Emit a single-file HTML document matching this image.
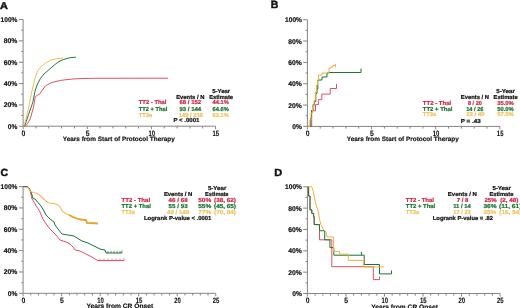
<!DOCTYPE html>
<html><head><meta charset="utf-8"><style>
html,body{margin:0;padding:0;background:#fff;}
body{width:520px;height:308px;overflow:hidden;font-family:"Liberation Sans",sans-serif;}
svg{display:block;filter:blur(0.4px);}
</style></head><body>
<svg text-rendering="geometricPrecision" width="520" height="308" viewBox="0 0 520 308" font-family="'Liberation Sans', sans-serif">
<rect width="520" height="308" fill="#fff"/>
<text x="0" y="9.0" font-size="10" font-weight="bold" fill="#111" stroke="#111" stroke-width="0.45" text-anchor="start" textLength="7.9" lengthAdjust="spacingAndGlyphs">A</text>
<text x="270.8" y="8.3" font-size="10.4" font-weight="bold" fill="#111" stroke="#111" stroke-width="0.45" text-anchor="start" textLength="7.6" lengthAdjust="spacingAndGlyphs">B</text>
<text x="0.6" y="175.5" font-size="10.4" font-weight="bold" fill="#111" stroke="#111" stroke-width="0.45" text-anchor="start" textLength="7.6" lengthAdjust="spacingAndGlyphs">C</text>
<text x="274.3" y="175.6" font-size="10.3" font-weight="bold" fill="#111" stroke="#111" stroke-width="0.45" text-anchor="start" textLength="7.9" lengthAdjust="spacingAndGlyphs">D</text>
<path d="M23.1,19.50V126.2H215.55M18.900000000000002,126.20H23.1M21.3,115.53H23.1M18.900000000000002,104.86H23.1M21.3,94.19H23.1M18.900000000000002,83.52H23.1M21.3,72.85H23.1M18.900000000000002,62.18H23.1M21.3,51.51H23.1M18.900000000000002,40.84H23.1M21.3,30.17H23.1M18.900000000000002,19.50H23.1M23.10,126.2V129.2M35.93,126.2V128.4M48.76,126.2V128.4M61.59,126.2V128.4M74.42,126.2V128.4M87.25,126.2V129.2M100.08,126.2V128.4M112.91,126.2V128.4M125.74,126.2V128.4M138.57,126.2V128.4M151.40,126.2V129.2M164.23,126.2V128.4M177.06,126.2V128.4M189.89,126.2V128.4M202.72,126.2V128.4M215.55,126.2V129.2" fill="none" stroke="#858585" stroke-width="1" stroke-opacity="1" stroke-linejoin="miter" stroke-linecap="butt"/>
<text x="17.4" y="128.70000000000002" font-size="6.9" font-weight="bold" fill="#111" stroke="#111" stroke-width="0.18" text-anchor="end" textLength="9.6" lengthAdjust="spacingAndGlyphs">0%</text>
<text x="17.4" y="107.36" font-size="6.9" font-weight="bold" fill="#111" stroke="#111" stroke-width="0.18" text-anchor="end" textLength="13.6" lengthAdjust="spacingAndGlyphs">20%</text>
<text x="17.4" y="86.02" font-size="6.9" font-weight="bold" fill="#111" stroke="#111" stroke-width="0.18" text-anchor="end" textLength="13.6" lengthAdjust="spacingAndGlyphs">40%</text>
<text x="17.4" y="64.67999999999999" font-size="6.9" font-weight="bold" fill="#111" stroke="#111" stroke-width="0.18" text-anchor="end" textLength="13.6" lengthAdjust="spacingAndGlyphs">60%</text>
<text x="17.4" y="43.339999999999996" font-size="6.9" font-weight="bold" fill="#111" stroke="#111" stroke-width="0.18" text-anchor="end" textLength="13.6" lengthAdjust="spacingAndGlyphs">80%</text>
<text x="17.4" y="22.0" font-size="6.9" font-weight="bold" fill="#111" stroke="#111" stroke-width="0.18" text-anchor="end" textLength="16.8" lengthAdjust="spacingAndGlyphs">100%</text>
<text x="23.400000000000002" y="135.7" font-size="7.8" font-weight="bold" fill="#111" stroke="#111" stroke-width="0.1" text-anchor="middle" textLength="3.8" lengthAdjust="spacingAndGlyphs">0</text>
<text x="87.55" y="135.7" font-size="7.8" font-weight="bold" fill="#111" stroke="#111" stroke-width="0.1" text-anchor="middle" textLength="3.8" lengthAdjust="spacingAndGlyphs">5</text>
<text x="151.70000000000002" y="135.7" font-size="7.8" font-weight="bold" fill="#111" stroke="#111" stroke-width="0.1" text-anchor="middle" textLength="6.6" lengthAdjust="spacingAndGlyphs">10</text>
<text x="215.85000000000002" y="135.7" font-size="7.8" font-weight="bold" fill="#111" stroke="#111" stroke-width="0.1" text-anchor="middle" textLength="6.6" lengthAdjust="spacingAndGlyphs">15</text>
<text x="62.8" y="140.9" font-size="6.3" font-weight="bold" fill="#111" stroke="#111" stroke-width="0.15" text-anchor="start" textLength="112" lengthAdjust="spacingAndGlyphs">Years from Start of Protocol Therapy</text>
<path d="M307.4,19.70V126.4H499.85M303.2,126.40H307.4M305.59999999999997,115.73H307.4M303.2,105.06H307.4M305.59999999999997,94.39H307.4M303.2,83.72H307.4M305.59999999999997,73.05H307.4M303.2,62.38H307.4M305.59999999999997,51.71H307.4M303.2,41.04H307.4M305.59999999999997,30.37H307.4M303.2,19.70H307.4M307.40,126.4V129.4M320.23,126.4V128.6M333.06,126.4V128.6M345.89,126.4V128.6M358.72,126.4V128.6M371.55,126.4V129.4M384.38,126.4V128.6M397.21,126.4V128.6M410.04,126.4V128.6M422.87,126.4V128.6M435.70,126.4V129.4M448.53,126.4V128.6M461.36,126.4V128.6M474.19,126.4V128.6M487.02,126.4V128.6M499.85,126.4V129.4" fill="none" stroke="#858585" stroke-width="1" stroke-opacity="1" stroke-linejoin="miter" stroke-linecap="butt"/>
<text x="301.9" y="128.9" font-size="6.9" font-weight="bold" fill="#111" stroke="#111" stroke-width="0.18" text-anchor="end" textLength="9.6" lengthAdjust="spacingAndGlyphs">0%</text>
<text x="301.9" y="107.56" font-size="6.9" font-weight="bold" fill="#111" stroke="#111" stroke-width="0.18" text-anchor="end" textLength="13.6" lengthAdjust="spacingAndGlyphs">20%</text>
<text x="301.9" y="86.22" font-size="6.9" font-weight="bold" fill="#111" stroke="#111" stroke-width="0.18" text-anchor="end" textLength="13.6" lengthAdjust="spacingAndGlyphs">40%</text>
<text x="301.9" y="64.88" font-size="6.9" font-weight="bold" fill="#111" stroke="#111" stroke-width="0.18" text-anchor="end" textLength="13.6" lengthAdjust="spacingAndGlyphs">60%</text>
<text x="301.9" y="43.54" font-size="6.9" font-weight="bold" fill="#111" stroke="#111" stroke-width="0.18" text-anchor="end" textLength="13.6" lengthAdjust="spacingAndGlyphs">80%</text>
<text x="301.9" y="22.2" font-size="6.9" font-weight="bold" fill="#111" stroke="#111" stroke-width="0.18" text-anchor="end" textLength="16.8" lengthAdjust="spacingAndGlyphs">100%</text>
<text x="307.7" y="135.9" font-size="7.8" font-weight="bold" fill="#111" stroke="#111" stroke-width="0.1" text-anchor="middle" textLength="3.8" lengthAdjust="spacingAndGlyphs">0</text>
<text x="371.85" y="135.9" font-size="7.8" font-weight="bold" fill="#111" stroke="#111" stroke-width="0.1" text-anchor="middle" textLength="3.8" lengthAdjust="spacingAndGlyphs">5</text>
<text x="436.0" y="135.9" font-size="7.8" font-weight="bold" fill="#111" stroke="#111" stroke-width="0.1" text-anchor="middle" textLength="6.6" lengthAdjust="spacingAndGlyphs">10</text>
<text x="500.15000000000003" y="135.9" font-size="7.8" font-weight="bold" fill="#111" stroke="#111" stroke-width="0.1" text-anchor="middle" textLength="6.6" lengthAdjust="spacingAndGlyphs">15</text>
<text x="346.8" y="141.1" font-size="6.3" font-weight="bold" fill="#111" stroke="#111" stroke-width="0.15" text-anchor="start" textLength="112" lengthAdjust="spacingAndGlyphs">Years from Start of Protocol Therapy</text>
<path d="M23.1,186.60V293.3H215.75M18.900000000000002,293.30H23.1M21.3,282.63H23.1M18.900000000000002,271.96H23.1M21.3,261.29H23.1M18.900000000000002,250.62H23.1M21.3,239.95H23.1M18.900000000000002,229.28H23.1M21.3,218.61H23.1M18.900000000000002,207.94H23.1M21.3,197.27H23.1M18.900000000000002,186.60H23.1M23.10,293.3V296.3M30.81,293.3V295.5M38.51,293.3V295.5M46.22,293.3V295.5M53.92,293.3V295.5M61.63,293.3V296.3M69.34,293.3V295.5M77.04,293.3V295.5M84.75,293.3V295.5M92.45,293.3V295.5M100.16,293.3V296.3M107.87,293.3V295.5M115.57,293.3V295.5M123.28,293.3V295.5M130.98,293.3V295.5M138.69,293.3V296.3M146.40,293.3V295.5M154.10,293.3V295.5M161.81,293.3V295.5M169.51,293.3V295.5M177.22,293.3V296.3M184.93,293.3V295.5M192.63,293.3V295.5M200.34,293.3V295.5M208.04,293.3V295.5M215.75,293.3V296.3" fill="none" stroke="#858585" stroke-width="1" stroke-opacity="1" stroke-linejoin="miter" stroke-linecap="butt"/>
<text x="17.4" y="295.8" font-size="6.9" font-weight="bold" fill="#111" stroke="#111" stroke-width="0.18" text-anchor="end" textLength="9.6" lengthAdjust="spacingAndGlyphs">0%</text>
<text x="17.4" y="274.46000000000004" font-size="6.9" font-weight="bold" fill="#111" stroke="#111" stroke-width="0.18" text-anchor="end" textLength="13.6" lengthAdjust="spacingAndGlyphs">20%</text>
<text x="17.4" y="253.12" font-size="6.9" font-weight="bold" fill="#111" stroke="#111" stroke-width="0.18" text-anchor="end" textLength="13.6" lengthAdjust="spacingAndGlyphs">40%</text>
<text x="17.4" y="231.78" font-size="6.9" font-weight="bold" fill="#111" stroke="#111" stroke-width="0.18" text-anchor="end" textLength="13.6" lengthAdjust="spacingAndGlyphs">60%</text>
<text x="17.4" y="210.44" font-size="6.9" font-weight="bold" fill="#111" stroke="#111" stroke-width="0.18" text-anchor="end" textLength="13.6" lengthAdjust="spacingAndGlyphs">80%</text>
<text x="17.4" y="189.10000000000002" font-size="6.9" font-weight="bold" fill="#111" stroke="#111" stroke-width="0.18" text-anchor="end" textLength="16.8" lengthAdjust="spacingAndGlyphs">100%</text>
<text x="23.400000000000002" y="302.8" font-size="7.8" font-weight="bold" fill="#111" stroke="#111" stroke-width="0.1" text-anchor="middle" textLength="3.8" lengthAdjust="spacingAndGlyphs">0</text>
<text x="61.93" y="302.8" font-size="7.8" font-weight="bold" fill="#111" stroke="#111" stroke-width="0.1" text-anchor="middle" textLength="3.8" lengthAdjust="spacingAndGlyphs">5</text>
<text x="100.46" y="302.8" font-size="7.8" font-weight="bold" fill="#111" stroke="#111" stroke-width="0.1" text-anchor="middle" textLength="6.6" lengthAdjust="spacingAndGlyphs">10</text>
<text x="138.99" y="302.8" font-size="7.8" font-weight="bold" fill="#111" stroke="#111" stroke-width="0.1" text-anchor="middle" textLength="6.6" lengthAdjust="spacingAndGlyphs">15</text>
<text x="177.52" y="302.8" font-size="7.8" font-weight="bold" fill="#111" stroke="#111" stroke-width="0.1" text-anchor="middle" textLength="6.6" lengthAdjust="spacingAndGlyphs">20</text>
<text x="216.05" y="302.8" font-size="7.8" font-weight="bold" fill="#111" stroke="#111" stroke-width="0.1" text-anchor="middle" textLength="6.6" lengthAdjust="spacingAndGlyphs">25</text>
<text x="86.4" y="308.3" font-size="6.3" font-weight="bold" fill="#111" stroke="#111" stroke-width="0.15" text-anchor="start" textLength="66.8" lengthAdjust="spacingAndGlyphs">Years from CR Onset</text>
<path d="M307.4,186.80V293.5H500.05M303.2,293.50H307.4M305.59999999999997,282.83H307.4M303.2,272.16H307.4M305.59999999999997,261.49H307.4M303.2,250.82H307.4M305.59999999999997,240.15H307.4M303.2,229.48H307.4M305.59999999999997,218.81H307.4M303.2,208.14H307.4M305.59999999999997,197.47H307.4M303.2,186.80H307.4M307.40,293.5V296.5M315.11,293.5V295.7M322.81,293.5V295.7M330.52,293.5V295.7M338.22,293.5V295.7M345.93,293.5V296.5M353.64,293.5V295.7M361.34,293.5V295.7M369.05,293.5V295.7M376.75,293.5V295.7M384.46,293.5V296.5M392.17,293.5V295.7M399.87,293.5V295.7M407.58,293.5V295.7M415.28,293.5V295.7M422.99,293.5V296.5M430.70,293.5V295.7M438.40,293.5V295.7M446.11,293.5V295.7M453.81,293.5V295.7M461.52,293.5V296.5M469.23,293.5V295.7M476.93,293.5V295.7M484.64,293.5V295.7M492.34,293.5V295.7M500.05,293.5V296.5" fill="none" stroke="#858585" stroke-width="1" stroke-opacity="1" stroke-linejoin="miter" stroke-linecap="butt"/>
<text x="301.9" y="296.0" font-size="6.9" font-weight="bold" fill="#111" stroke="#111" stroke-width="0.18" text-anchor="end" textLength="9.6" lengthAdjust="spacingAndGlyphs">0%</text>
<text x="301.9" y="274.66" font-size="6.9" font-weight="bold" fill="#111" stroke="#111" stroke-width="0.18" text-anchor="end" textLength="13.6" lengthAdjust="spacingAndGlyphs">20%</text>
<text x="301.9" y="253.32000000000002" font-size="6.9" font-weight="bold" fill="#111" stroke="#111" stroke-width="0.18" text-anchor="end" textLength="13.6" lengthAdjust="spacingAndGlyphs">40%</text>
<text x="301.9" y="231.98000000000002" font-size="6.9" font-weight="bold" fill="#111" stroke="#111" stroke-width="0.18" text-anchor="end" textLength="13.6" lengthAdjust="spacingAndGlyphs">60%</text>
<text x="301.9" y="210.64000000000001" font-size="6.9" font-weight="bold" fill="#111" stroke="#111" stroke-width="0.18" text-anchor="end" textLength="13.6" lengthAdjust="spacingAndGlyphs">80%</text>
<text x="301.9" y="189.3" font-size="6.9" font-weight="bold" fill="#111" stroke="#111" stroke-width="0.18" text-anchor="end" textLength="16.8" lengthAdjust="spacingAndGlyphs">100%</text>
<text x="307.7" y="303.0" font-size="7.8" font-weight="bold" fill="#111" stroke="#111" stroke-width="0.1" text-anchor="middle" textLength="3.8" lengthAdjust="spacingAndGlyphs">0</text>
<text x="346.23" y="303.0" font-size="7.8" font-weight="bold" fill="#111" stroke="#111" stroke-width="0.1" text-anchor="middle" textLength="3.8" lengthAdjust="spacingAndGlyphs">5</text>
<text x="384.76" y="303.0" font-size="7.8" font-weight="bold" fill="#111" stroke="#111" stroke-width="0.1" text-anchor="middle" textLength="6.6" lengthAdjust="spacingAndGlyphs">10</text>
<text x="423.29" y="303.0" font-size="7.8" font-weight="bold" fill="#111" stroke="#111" stroke-width="0.1" text-anchor="middle" textLength="6.6" lengthAdjust="spacingAndGlyphs">15</text>
<text x="461.82" y="303.0" font-size="7.8" font-weight="bold" fill="#111" stroke="#111" stroke-width="0.1" text-anchor="middle" textLength="6.6" lengthAdjust="spacingAndGlyphs">20</text>
<text x="500.35" y="303.0" font-size="7.8" font-weight="bold" fill="#111" stroke="#111" stroke-width="0.1" text-anchor="middle" textLength="6.6" lengthAdjust="spacingAndGlyphs">25</text>
<text x="371.2" y="308.6" font-size="6.3" font-weight="bold" fill="#111" stroke="#111" stroke-width="0.15" text-anchor="start" textLength="66.8" lengthAdjust="spacingAndGlyphs">Years from CR Onset</text>
<text x="212.2" y="93.1" font-size="5.8" font-weight="bold" fill="#111" stroke="#111" stroke-width="0.22" text-anchor="start" textLength="18" lengthAdjust="spacingAndGlyphs">5-Year</text>
<text x="176.2" y="98.6" font-size="5.8" font-weight="bold" fill="#111" stroke="#111" stroke-width="0.22" text-anchor="start" textLength="28.2" lengthAdjust="spacingAndGlyphs">Events / N</text>
<text x="209.2" y="98.6" font-size="5.8" font-weight="bold" fill="#111" stroke="#111" stroke-width="0.22" text-anchor="start" textLength="23.8" lengthAdjust="spacingAndGlyphs">Estimate</text>
<text x="138.8" y="104.3" font-size="5.8" font-weight="bold" fill="#d22640" stroke="#d22640" stroke-width="0.22" text-anchor="start" textLength="27.6" lengthAdjust="spacingAndGlyphs">TT2 - Thal</text>
<text x="179.4" y="104.3" font-size="5.8" font-weight="bold" fill="#d22640" stroke="#d22640" stroke-width="0.22" text-anchor="start" textLength="21.8" lengthAdjust="spacingAndGlyphs">68 / 152</text>
<text x="212.6" y="104.3" font-size="5.8" font-weight="bold" fill="#d22640" stroke="#d22640" stroke-width="0.22" text-anchor="start" textLength="16.2" lengthAdjust="spacingAndGlyphs">44.1%</text>
<text x="138.8" y="110.6" font-size="5.8" font-weight="bold" fill="#1a7434" stroke="#1a7434" stroke-width="0.22" text-anchor="start" textLength="28.6" lengthAdjust="spacingAndGlyphs">TT2 + Thal</text>
<text x="179.4" y="110.6" font-size="5.8" font-weight="bold" fill="#1a7434" stroke="#1a7434" stroke-width="0.22" text-anchor="start" textLength="21.8" lengthAdjust="spacingAndGlyphs">93 / 144</text>
<text x="212.6" y="110.6" font-size="5.8" font-weight="bold" fill="#1a7434" stroke="#1a7434" stroke-width="0.22" text-anchor="start" textLength="16.2" lengthAdjust="spacingAndGlyphs">64.6%</text>
<text x="138.8" y="116.5" font-size="5.8" font-weight="bold" fill="#f2c260" stroke="#f2c260" stroke-width="0.22" text-anchor="start" textLength="13.4" lengthAdjust="spacingAndGlyphs">TT3a</text>
<text x="178.8" y="116.5" font-size="5.8" font-weight="bold" fill="#f2c260" stroke="#f2c260" stroke-width="0.22" text-anchor="start" textLength="24.2" lengthAdjust="spacingAndGlyphs">149 / 236</text>
<text x="212.6" y="116.5" font-size="5.8" font-weight="bold" fill="#f2c260" stroke="#f2c260" stroke-width="0.22" text-anchor="start" textLength="16.2" lengthAdjust="spacingAndGlyphs">63.1%</text>
<text x="173.4" y="121.8" font-size="5.8" font-weight="bold" fill="#111" stroke="#111" stroke-width="0.22" text-anchor="start" textLength="26" lengthAdjust="spacingAndGlyphs">P &lt; .0001</text>
<text x="496.3" y="92.9" font-size="5.8" font-weight="bold" fill="#111" stroke="#111" stroke-width="0.22" text-anchor="start" textLength="18.6" lengthAdjust="spacingAndGlyphs">5-Year</text>
<text x="460.8" y="98.9" font-size="5.8" font-weight="bold" fill="#111" stroke="#111" stroke-width="0.22" text-anchor="start" textLength="28.2" lengthAdjust="spacingAndGlyphs">Events / N</text>
<text x="493.6" y="98.9" font-size="5.8" font-weight="bold" fill="#111" stroke="#111" stroke-width="0.22" text-anchor="start" textLength="24" lengthAdjust="spacingAndGlyphs">Estimate</text>
<text x="422.8" y="104.6" font-size="5.8" font-weight="bold" fill="#d22640" stroke="#d22640" stroke-width="0.22" text-anchor="start" textLength="28.4" lengthAdjust="spacingAndGlyphs">TT2 - Thal</text>
<text x="467.9" y="104.6" font-size="5.8" font-weight="bold" fill="#d22640" stroke="#d22640" stroke-width="0.22" text-anchor="start" textLength="14" lengthAdjust="spacingAndGlyphs">8 / 20</text>
<text x="497.2" y="104.6" font-size="5.8" font-weight="bold" fill="#d22640" stroke="#d22640" stroke-width="0.22" text-anchor="start" textLength="16.6" lengthAdjust="spacingAndGlyphs">35.0%</text>
<text x="422.8" y="110.5" font-size="5.8" font-weight="bold" fill="#1a7434" stroke="#1a7434" stroke-width="0.22" text-anchor="start" textLength="29.6" lengthAdjust="spacingAndGlyphs">TT2 + Thal</text>
<text x="466.2" y="110.5" font-size="5.8" font-weight="bold" fill="#1a7434" stroke="#1a7434" stroke-width="0.22" text-anchor="start" textLength="17.2" lengthAdjust="spacingAndGlyphs">14 / 26</text>
<text x="497.2" y="110.5" font-size="5.8" font-weight="bold" fill="#1a7434" stroke="#1a7434" stroke-width="0.22" text-anchor="start" textLength="16.6" lengthAdjust="spacingAndGlyphs">50.0%</text>
<text x="422.8" y="116.3" font-size="5.8" font-weight="bold" fill="#f2c260" stroke="#f2c260" stroke-width="0.22" text-anchor="start" textLength="13.4" lengthAdjust="spacingAndGlyphs">TT3a</text>
<text x="466.2" y="116.3" font-size="5.8" font-weight="bold" fill="#f2c260" stroke="#f2c260" stroke-width="0.22" text-anchor="start" textLength="18.4" lengthAdjust="spacingAndGlyphs">23 / 40</text>
<text x="497.2" y="116.3" font-size="5.8" font-weight="bold" fill="#f2c260" stroke="#f2c260" stroke-width="0.22" text-anchor="start" textLength="16.6" lengthAdjust="spacingAndGlyphs">57.5%</text>
<text x="460.8" y="122.6" font-size="5.8" font-weight="bold" fill="#111" stroke="#111" stroke-width="0.22" text-anchor="start" textLength="20" lengthAdjust="spacingAndGlyphs">P = .43</text>
<text x="207.9" y="190.3" font-size="5.8" font-weight="bold" fill="#111" stroke="#111" stroke-width="0.22" text-anchor="start" textLength="18.4" lengthAdjust="spacingAndGlyphs">5-Year</text>
<text x="163.9" y="196.4" font-size="5.8" font-weight="bold" fill="#111" stroke="#111" stroke-width="0.22" text-anchor="start" textLength="28.4" lengthAdjust="spacingAndGlyphs">Events / N</text>
<text x="205.1" y="196.4" font-size="5.8" font-weight="bold" fill="#111" stroke="#111" stroke-width="0.22" text-anchor="start" textLength="23.4" lengthAdjust="spacingAndGlyphs">Estimate</text>
<text x="121.5" y="202" font-size="5.8" font-weight="bold" fill="#d22640" stroke="#d22640" stroke-width="0.22" text-anchor="start" textLength="28.6" lengthAdjust="spacingAndGlyphs">TT2 - Thal</text>
<text x="168.6" y="202" font-size="5.8" font-weight="bold" fill="#d22640" stroke="#d22640" stroke-width="0.22" text-anchor="start" textLength="19" lengthAdjust="spacingAndGlyphs">46 / 68</text>
<text x="198.2" y="202" font-size="5.8" font-weight="bold" fill="#d22640" stroke="#d22640" stroke-width="0.22" text-anchor="start" textLength="13" lengthAdjust="spacingAndGlyphs">50%</text>
<text x="214" y="202" font-size="5.8" font-weight="bold" fill="#d22640" stroke="#d22640" stroke-width="0.22" text-anchor="start" textLength="22" lengthAdjust="spacingAndGlyphs">(38, 62)</text>
<text x="121.5" y="207.8" font-size="5.8" font-weight="bold" fill="#1a7434" stroke="#1a7434" stroke-width="0.22" text-anchor="start" textLength="29.4" lengthAdjust="spacingAndGlyphs">TT2 + Thal</text>
<text x="168.6" y="207.8" font-size="5.8" font-weight="bold" fill="#1a7434" stroke="#1a7434" stroke-width="0.22" text-anchor="start" textLength="19" lengthAdjust="spacingAndGlyphs">55 / 93</text>
<text x="198.2" y="207.8" font-size="5.8" font-weight="bold" fill="#1a7434" stroke="#1a7434" stroke-width="0.22" text-anchor="start" textLength="13" lengthAdjust="spacingAndGlyphs">55%</text>
<text x="214" y="207.8" font-size="5.8" font-weight="bold" fill="#1a7434" stroke="#1a7434" stroke-width="0.22" text-anchor="start" textLength="22" lengthAdjust="spacingAndGlyphs">(45, 65)</text>
<text x="121.5" y="213.7" font-size="5.8" font-weight="bold" fill="#f2c260" stroke="#f2c260" stroke-width="0.22" text-anchor="start" textLength="13.4" lengthAdjust="spacingAndGlyphs">TT3a</text>
<text x="167" y="213.7" font-size="5.8" font-weight="bold" fill="#f2c260" stroke="#f2c260" stroke-width="0.22" text-anchor="start" textLength="22.2" lengthAdjust="spacingAndGlyphs">49 / 149</text>
<text x="198.2" y="213.7" font-size="5.8" font-weight="bold" fill="#f2c260" stroke="#f2c260" stroke-width="0.22" text-anchor="start" textLength="13" lengthAdjust="spacingAndGlyphs">77%</text>
<text x="214" y="213.7" font-size="5.8" font-weight="bold" fill="#f2c260" stroke="#f2c260" stroke-width="0.22" text-anchor="start" textLength="22" lengthAdjust="spacingAndGlyphs">(70, 84)</text>
<text x="144" y="219.6" font-size="5.8" font-weight="bold" fill="#111" stroke="#111" stroke-width="0.22" text-anchor="start" textLength="67.4" lengthAdjust="spacingAndGlyphs">Logrank P-value &lt; .0001</text>
<text x="492.4" y="190.3" font-size="5.8" font-weight="bold" fill="#111" stroke="#111" stroke-width="0.22" text-anchor="start" textLength="18.4" lengthAdjust="spacingAndGlyphs">5-Year</text>
<text x="447.8" y="196.4" font-size="5.8" font-weight="bold" fill="#111" stroke="#111" stroke-width="0.22" text-anchor="start" textLength="29" lengthAdjust="spacingAndGlyphs">Events / N</text>
<text x="489.4" y="196.4" font-size="5.8" font-weight="bold" fill="#111" stroke="#111" stroke-width="0.22" text-anchor="start" textLength="24" lengthAdjust="spacingAndGlyphs">Estimate</text>
<text x="405.8" y="202" font-size="5.8" font-weight="bold" fill="#d22640" stroke="#d22640" stroke-width="0.22" text-anchor="start" textLength="28.2" lengthAdjust="spacingAndGlyphs">TT2 - Thal</text>
<text x="456.7" y="202" font-size="5.8" font-weight="bold" fill="#d22640" stroke="#d22640" stroke-width="0.22" text-anchor="start" textLength="11.8" lengthAdjust="spacingAndGlyphs">7 / 8</text>
<text x="484.4" y="202" font-size="5.8" font-weight="bold" fill="#d22640" stroke="#d22640" stroke-width="0.22" text-anchor="start" textLength="12.3" lengthAdjust="spacingAndGlyphs">25%</text>
<text x="500.2" y="202" font-size="5.8" font-weight="bold" fill="#d22640" stroke="#d22640" stroke-width="0.22" text-anchor="start" textLength="18.2" lengthAdjust="spacingAndGlyphs">(2, 48)</text>
<text x="405.8" y="207.8" font-size="5.8" font-weight="bold" fill="#1a7434" stroke="#1a7434" stroke-width="0.22" text-anchor="start" textLength="29.4" lengthAdjust="spacingAndGlyphs">TT2 + Thal</text>
<text x="453.2" y="207.8" font-size="5.8" font-weight="bold" fill="#1a7434" stroke="#1a7434" stroke-width="0.22" text-anchor="start" textLength="17.6" lengthAdjust="spacingAndGlyphs">11 / 14</text>
<text x="483.4" y="207.8" font-size="5.8" font-weight="bold" fill="#1a7434" stroke="#1a7434" stroke-width="0.22" text-anchor="start" textLength="13.2" lengthAdjust="spacingAndGlyphs">36%</text>
<text x="499" y="207.8" font-size="5.8" font-weight="bold" fill="#1a7434" stroke="#1a7434" stroke-width="0.22" text-anchor="start" textLength="22.4" lengthAdjust="spacingAndGlyphs">(11, 61)</text>
<text x="405.8" y="213.7" font-size="5.8" font-weight="bold" fill="#f2c260" stroke="#f2c260" stroke-width="0.22" text-anchor="start" textLength="13.4" lengthAdjust="spacingAndGlyphs">TT3a</text>
<text x="453.2" y="213.7" font-size="5.8" font-weight="bold" fill="#f2c260" stroke="#f2c260" stroke-width="0.22" text-anchor="start" textLength="17.6" lengthAdjust="spacingAndGlyphs">17 / 23</text>
<text x="483.4" y="213.7" font-size="5.8" font-weight="bold" fill="#f2c260" stroke="#f2c260" stroke-width="0.22" text-anchor="start" textLength="13" lengthAdjust="spacingAndGlyphs">35%</text>
<text x="499.3" y="213.7" font-size="5.8" font-weight="bold" fill="#f2c260" stroke="#f2c260" stroke-width="0.22" text-anchor="start" textLength="22.2" lengthAdjust="spacingAndGlyphs">(16, 54)</text>
<text x="432.8" y="219.6" font-size="5.8" font-weight="bold" fill="#111" stroke="#111" stroke-width="0.22" text-anchor="start" textLength="60.2" lengthAdjust="spacingAndGlyphs">Logrank P-value = .82</text>
<path d="M23.1,126.2 L26,125.6 L28.5,122 L30.4,118.4 L33.5,107.3 L35.3,96.6 L37.5,95.2 L39.6,94.3 L42,90.5 L45.4,86 L50.5,83 L55,81.7 L60.6,80.4 L67,79.6 L73.2,79 L80,78.6 L93.5,78.3 L168,78.2" fill="none" stroke="#dc4a5a" stroke-width="0.95" stroke-opacity="1" stroke-linejoin="miter" stroke-linecap="butt"/>
<path d="M23.1,126.2 L24.8,125.6 L28.5,114.7 L32.8,102.3 L35.3,90 L37.5,84 L40.4,78.5 L44,74 L48,70.5 L52,67 L55.6,64 L59,61.5 L63.2,59.6 L67,58.4 L70.8,57.6 L75.9,57.2" fill="none" stroke="#257a3a" stroke-width="1.0" stroke-opacity="1" stroke-linejoin="miter" stroke-linecap="butt"/>
<path d="M23.1,126.2 L24.2,125.6 L28.5,108.5 L30.5,98 L32.2,90 L35,78 L37.8,70.3 L40,67.5 L42.9,65.2 L46.5,62.5 L50.5,60.1 L56,58.8 L60.6,58.3 L63,58" fill="none" stroke="#f0b850" stroke-width="0.95" stroke-opacity="1" stroke-linejoin="miter" stroke-linecap="butt"/>
<path d="M307.4,126.4H311.7V110.9H315.5V104.6H318.3V99.7H321.8V94.1H330.2V88.5H336.5V84" fill="none" stroke="#dc5064" stroke-width="1" stroke-opacity="1" stroke-linejoin="miter" stroke-linecap="butt"/>
<path d="M307.4,126.4H310.6V118H311.5V110.5H313V104.6H314.5V101.5H315.8V93.4H317V89H317.8V80H322V77H327V73H329V72.5H361M361,68.5V72.5" fill="none" stroke="#1a7434" stroke-width="1" stroke-opacity="1" stroke-linejoin="miter" stroke-linecap="butt"/>
<path d="M307.4,126.4H309.9V120H311V113H312.5V107.4H314V100.4H315.3V92H316.5V85H317.5V80H318.5V75H322V73H329V68H331V67H333V65.5H335.5M335.5,64V67" fill="none" stroke="#eeb040" stroke-width="1" stroke-opacity="1" stroke-linejoin="miter" stroke-linecap="butt"/>
<path d="M23.1,186.6 L27.5,186.8 L28,187.5 L30,190 L32,199 L33,200.5 L35,203.5 L36,206 L38,208.5 L40,212 L42,217 L44,221 L47,225 L50,229 L53,232 L56,235 L60,240 L66,242 L70,244 L73,247 L75,250 L80,251 L84,253 L88,255 L92,257 L95,259 L98,260.6 L124,260.6" fill="none" stroke="#dc5064" stroke-width="1" stroke-opacity="1" stroke-linejoin="miter" stroke-linecap="butt"/>
<path d="M27.5,186.8 L29,188 L31,192 L32,195 L33,198.5 L35,199 L38,202.5 L41,206 L44,211 L46,215 L50,219 L54,222 L55,225 L58,229 L62,234 L68,235 L74,236 L77,238 L82,241 L88,243 L92,245 L96,247 L100,249 L105,250 L106,253 L122,253" fill="none" stroke="#1a7434" stroke-width="1" stroke-opacity="1" stroke-linejoin="miter" stroke-linecap="butt"/>
<path d="M27.5,186.8 L28,187.5 L30,191 L33,192.5 L36,193 L39,194.5 L42,197.5 L46,201 L49,203 L54,203.5 L58,205 L61,208.5 L62,211 L65,213 L69,215 L73,217 L77,218.5 L81,219.5 L86,220 L87,223 L98,223.5" fill="none" stroke="#eebb62" stroke-width="1.1" stroke-opacity="1" stroke-linejoin="miter" stroke-linecap="butt"/>
<path d="M69,215 L73,217 L77,218.5 L81,219.5 L86,220 L87,223 L98,223.5" fill="none" stroke="#e9a424" stroke-width="1.8" stroke-opacity="1" stroke-linejoin="miter" stroke-linecap="butt"/>
<path d="M108,250.8V253M111,250.8V253M114,250.8V253M117,250.8V253M120,250.8V253M122,250.3V253" fill="none" stroke="#1a7434" stroke-width="0.7" stroke-opacity="1" stroke-linejoin="miter" stroke-linecap="butt"/>
<path d="M100,258.6V260.6M104,258.6V260.6M108,258.6V260.6M112,258.6V260.6M116,258.6V260.6M120,258.6V260.6M124,258V260.6" fill="none" stroke="#dc5064" stroke-width="0.7" stroke-opacity="1" stroke-linejoin="miter" stroke-linecap="butt"/>
<path d="M23.1,186.7H27.5" fill="none" stroke="#4a5a48" stroke-width="1" stroke-opacity="1" stroke-linejoin="miter" stroke-linecap="butt"/>
<path d="M307.4,186.7H308.6V196H310V209.8H311.8V213.4H313.6V216.7H314.2V224.6H319.5V239.8H331.8V266.7H373.3V279.6H379.5M379.5,276.6V279.6" fill="none" stroke="#dc5064" stroke-width="1" stroke-opacity="1" stroke-linejoin="miter" stroke-linecap="butt"/>
<path d="M307.4,186.7H308.6V196H310V209.8H311.8V213.4H313.6V216.7H314.2V224.6H319.5V230.7H324.7V239.8H329.9V247.6H333.8V255.2H364.2V264.5H379.5V273.9H391.5M391.5,270.5V273.9M361.4,252V255.2" fill="none" stroke="#1a7434" stroke-width="1" stroke-opacity="1" stroke-linejoin="miter" stroke-linecap="butt"/>
<path d="M307.4,186.7H311.7L313,190.4L315.6,203.4L318.2,211.2L319.5,219L320.8,224.2L323.4,229.4L326,232L327,237H333.6V251.4H339.3V254.1H348.2V260.4H363.4V266.9H384" fill="none" stroke="#eeb040" stroke-width="1" stroke-opacity="1" stroke-linejoin="miter" stroke-linecap="butt"/>
</svg>
</body></html>
